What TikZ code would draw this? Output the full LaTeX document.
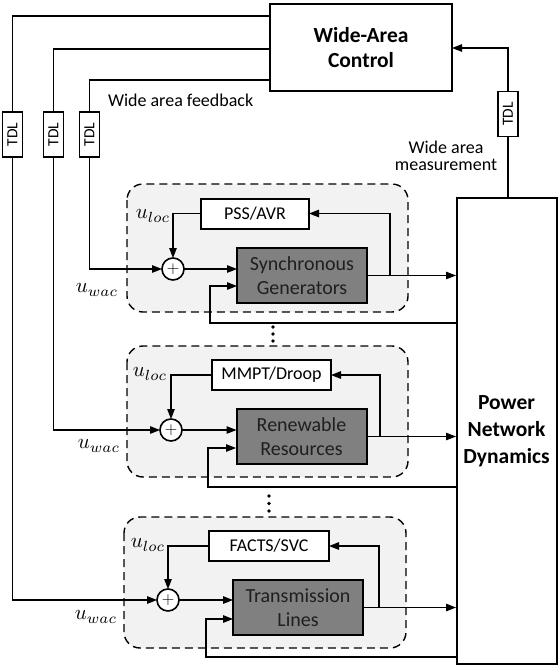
\documentclass[tikz,border=0pt]{standalone}
\usepackage{fontspec}
\setmainfont{Carlito}
\usetikzlibrary{arrows.meta}
\begin{document}
\begin{tikzpicture}[x=1pt,y=-1pt,
  every node/.style={inner sep=0pt,outer sep=0pt},
  line/.style={line width=1.3pt},
  arr/.style={line width=1.3pt,-{Triangle[length=10pt,width=7.5pt]}},
  bigbox/.style={draw,line width=2pt,fill=white,align=center,font=\fontsize{21.5}{27}\selectfont\bfseries},
  ctrl/.style={draw,line width=2pt,fill=white,minimum height=30pt,font=\fontsize{18}{22}\selectfont},
  plant/.style={draw,line width=2pt,fill=black!50,minimum width=130pt,minimum height=55pt,align=center,text=black!88,font=\fontsize{20}{24}\selectfont},
  tdlbox/.style={draw,line width=1.8pt,fill=white,rotate=90,minimum width=45pt,minimum height=20pt,font=\fontsize{15.5}{18}\selectfont},
  sumnode/.style={draw,circle,line width=1.6pt,fill=white,minimum size=22pt,font=\fontsize{18}{20}\selectfont},
  group/.style={draw,line width=1.4pt,dash pattern=on 8pt off 5pt,rounded corners=16pt,fill=black!5},
  ulab/.style={font=\normalsize,scale=2.1},
  txt/.style={font=\fontsize{18}{20}\selectfont},
  dotm/.style={fill=black,circle,minimum size=3.6pt}
]
\useasboundingbox (0,0) rectangle (558,667);

% groups
\draw[group] (127,184) rectangle (408,312);
\draw[group] (127,346) rectangle (408,477);
\draw[group] (124,517) rectangle (406,648);

% main boxes
\node[bigbox,minimum width=182pt,minimum height=87pt] (wac) at (361,47.5) {Wide-Area\\[-2pt]Control};
\node[bigbox,minimum width=100pt,minimum height=466pt] (pnd) at (506.5,431) {Power\\Network\\Dynamics};

% TDLs
\node[tdlbox] (t1) at (12.5,134.5) {TDL};
\node[tdlbox] (t2) at (53.5,134.5) {TDL};
\node[tdlbox] (t3) at (89.5,134.5) {TDL};
\node[tdlbox] (t4) at (508,114) {TDL};

% controllers
\node[ctrl,minimum width=108pt] (c1) at (255,213.5) {PSS/AVR};
\node[ctrl,minimum width=119pt] (c2) at (271.5,375) {MMPT/Droop};
\node[ctrl,minimum width=120pt] (c3) at (269,546) {FACTS/SVC};

% plants
\node[plant] (p1) at (302,275.5) {Synchronous\\Generators};
\node[plant] (p2) at (301.5,436.5) {Renewable\\Resources};
\node[plant] (p3) at (298,607.5) {Transmission\\Lines};

% sums
\node[sumnode] (s1) at (173,269) {$+$};
\node[sumnode] (s2) at (171,430) {$+$};
\node[sumnode] (s3) at (168,600) {$+$};

% coordinates
\coordinate (w1) at (wac.west |- 0,16);
\coordinate (w2) at (wac.west |- 0,49);
\coordinate (w3) at (wac.west |- 0,80);

% wide-area feedback lines
\draw[line] (w1) -| (t1.east);
\draw[line] (w2) -| (t2.east);
\draw[line] (w3) -| (t3.east);
\draw[arr] (t1.west) |- (s3.west);
\draw[arr] (t2.west) |- (s2.west);
\draw[arr] (t3.west) |- (s1.west);

% measurement
\coordinate (m1) at (508,198);
\coordinate (m2) at (452,48);
\draw[line] (m1) -- (t4.west);
\draw[arr] (t4.east) |- (wac.east |- m2);

% group 1
\coordinate (o1) at (456,275.5);
\coordinate (f1) at (390,275.5);
\draw[arr] (p1.east) -- (o1);
\draw[arr] (f1) |- (c1.east);
\draw[arr] (c1.west) -| (s1.north);
\draw[arr] (s1.east) -- (p1.west |- s1);
\coordinate (b1) at (456,323);
\coordinate (i1) at (237,286);
\draw[arr] (b1) -| (210,286) -- (i1);

% group 2
\coordinate (o2) at (456,436.5);
\coordinate (f2) at (380,436.5);
\draw[arr] (p2.east) -- (o2);
\draw[arr] (f2) |- (c2.east);
\draw[arr] (c2.west) -| (s2.north);
\draw[arr] (s2.east) -- (p2.west |- s2);
\coordinate (b2) at (456,487);
\coordinate (i2) at (236,448);
\draw[arr] (b2) -| (208,448) -- (i2);

% group 3
\coordinate (o3) at (456,607.5);
\coordinate (f3) at (379,607.5);
\draw[arr] (p3.east) -- (o3);
\draw[arr] (f3) |- (c3.east);
\draw[arr] (c3.west) -| (s3.north);
\draw[arr] (s3.east) -- (p3.west |- s3);
\coordinate (b3) at (456,657);
\coordinate (i3) at (233,619);
\draw[arr] (b3) -| (206,619) -- (i3);

% labels
\node[txt,anchor=west] (lf) at (108,100) {Wide area feedback};
\node[txt,align=center] (lm) at (446,156) {Wide area\\[-3pt]measurement};
\node[ulab] (ul1) at (153,216) {$u_{loc}$};
\node[ulab] (uw1) at (97,290) {$u_{wac}$};
\node[ulab] (ul2) at (150,374) {$u_{loc}$};
\node[ulab] (uw2) at (99,446) {$u_{wac}$};
\node[ulab] (ul3) at (148,545) {$u_{loc}$};
\node[ulab] (uw3) at (96,617) {$u_{wac}$};

% dots
\node[dotm] (d11) at (273,327) {};
\node[dotm] (d12) at (273,334) {};
\node[dotm] (d13) at (273,341) {};
\node[dotm] (d21) at (269,496) {};
\node[dotm] (d22) at (269,503.5) {};
\node[dotm] (d23) at (269,511) {};
\end{tikzpicture}
\end{document}
